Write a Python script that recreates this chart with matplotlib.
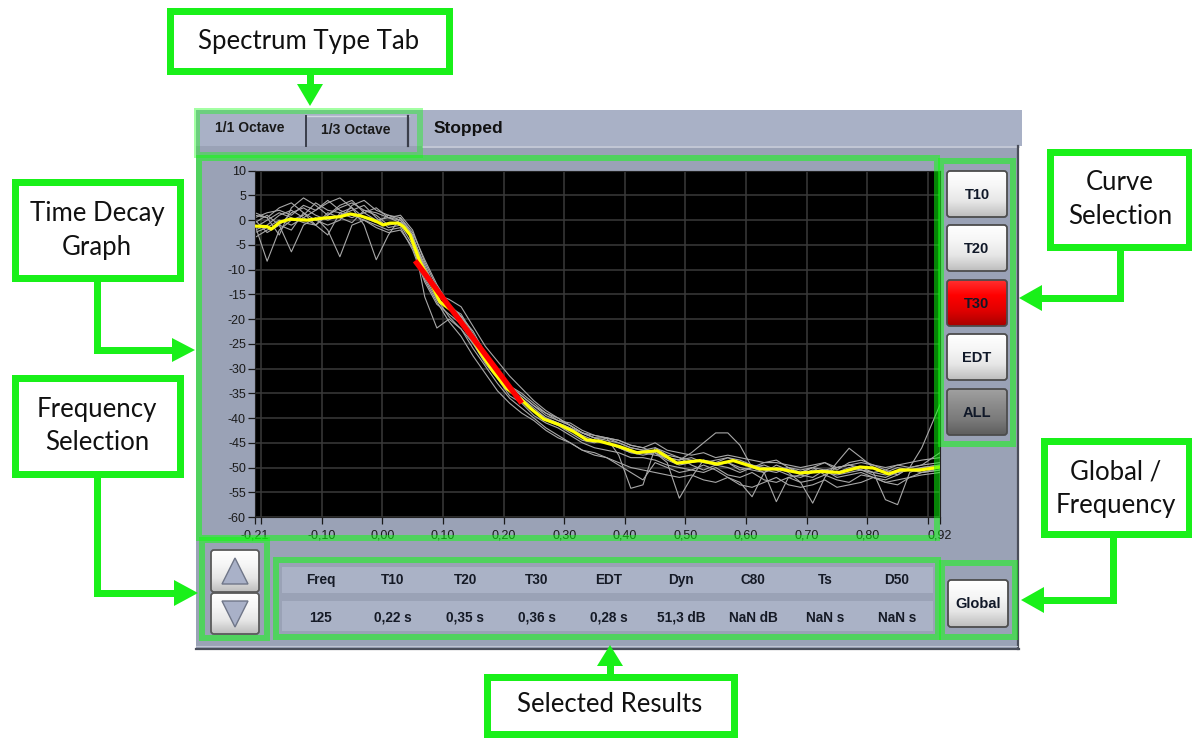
import numpy as np
import matplotlib
matplotlib.use('Agg')
import matplotlib.pyplot as plt
from matplotlib.patches import Rectangle, FancyBboxPatch, Polygon
from matplotlib.colors import LinearSegmentedColormap

# ---------------- data ----------------
x_ticks = [-0.21, -0.20, -0.10, 0.00, 0.10, 0.20, 0.30, 0.40, 0.50, 0.60, 0.70, 0.80, 0.90, 0.92]
x_labels = ['-0,21', '', '-0,10', '0,00', '0,10', '0,20', '0,30', '0,40', '0,50', '0,60',
            '0,70', '0,80', '', '0,92']
y_ticks = [10, 5, 0, -5, -10, -15, -20, -25, -30, -35, -40, -45, -50, -55, -60]

yel_t = [-0.21, -0.19, -0.183, -0.169, -0.152, -0.125, -0.098, -0.070, -0.053, -0.037,
         -0.020, -0.009, 0.0015, 0.0125, 0.026, 0.035, 0.046, 0.054, 0.062, 0.079,
         0.095, 0.117, 0.139, 0.161, 0.183, 0.205, 0.227, 0.244, 0.266, 0.293,
         0.315, 0.337, 0.359, 0.392, 0.420, 0.453, 0.486, 0.524, 0.552, 0.579,
         0.623, 0.656, 0.689, 0.722, 0.755, 0.788, 0.810, 0.835, 0.854, 0.887, 0.920]
yel_v = [-1.2, -1.3, -1.8, -0.4, 0.2, 0.0, 0.4, 0.7, 1.25, 0.9,
         0.24, -0.3, -0.97, -0.6, -0.6, -1.3, -3.0, -5.7, -8.4, -12.4,
         -16.5, -18.5, -21.8, -26.6, -30.6, -34.0, -36.0, -38.0, -40.2, -41.4,
         -42.7, -44.4, -44.7, -45.8, -47.0, -46.6, -49.1, -48.6, -49.3, -48.6,
         -50.3, -50.3, -51.1, -50.8, -51.0, -49.9, -50.1, -51.3, -50.5, -50.5, -49.9]

red_t = [0.054, 0.230]
red_v = [-8.2, -37.0]

gray_t = [-0.21, -0.19, -0.17, -0.15, -0.13, -0.11, -0.09, -0.07, -0.05, -0.03,
          -0.01, 0.01, 0.03, 0.05, 0.07, 0.09, 0.11, 0.13, 0.15, 0.17,
          0.19, 0.21, 0.23, 0.25, 0.27, 0.29, 0.31, 0.33, 0.35, 0.37,
          0.39, 0.41, 0.43, 0.45, 0.47, 0.49, 0.51, 0.53, 0.55, 0.57,
          0.59, 0.61, 0.63, 0.65, 0.67, 0.69, 0.71, 0.73, 0.75, 0.77,
          0.79, 0.81, 0.83, 0.85, 0.87, 0.89, 0.92]

gray_1 = [1.5, 0.5, -3.0, 2.5, 4.5, 3.0, 1.0, 2.5, 3.5, 2.0,
          1.5, 0.5, 1.0, -2.0, -8.5, -13.5, -17.0, -19.5, -22.5, -27.0,
          -30.0, -33.5, -35.5, -37.5, -39.0, -40.5, -41.0, -42.5, -43.5, -44.0,
          -44.5, -45.5, -46.0, -45.0, -46.5, -47.0, -47.5, -47.0, -48.0, -47.5,
          -48.0, -48.5, -49.0, -49.0, -49.5, -50.0, -49.5, -49.0, -50.0, -49.5,
          -49.0, -49.5, -50.0, -49.5, -49.0, -48.5, -48.0]
gray_2 = [-3.5, -2.0, -1.0, -6.4, -1.0, 0.5, -2.0, -7.4, -1.0, 0.0,
          -1.5, -2.5, -2.0, -5.5, -12.0, -16.5, -20.5, -23.5, -27.5, -31.0,
          -34.5, -37.0, -39.0, -40.5, -42.5, -44.0, -45.0, -46.5, -47.0, -48.0,
          -49.5, -51.0, -52.5, -49.0, -50.0, -51.0, -50.5, -51.0, -50.0, -51.5,
          -52.0, -51.0, -52.5, -53.0, -52.0, -53.0, -52.5, -51.5, -52.5, -53.0,
          -51.5, -52.0, -53.0, -52.5, -52.0, -51.5, -51.0]
gray_3 = [0.5, 1.5, 2.0, 1.0, 3.0, 2.0, 3.5, 4.5, 2.5, -1.0,
          -8.0, -3.0, 0.5, -3.0, -15.5, -21.8, -20.0, -22.0, -26.0, -29.5,
          -33.0, -36.0, -38.0, -40.0, -42.0, -43.5, -45.0, -46.5, -47.5, -48.0,
          -49.0, -50.0, -50.5, -51.0, -51.5, -52.0, -51.5, -52.5, -53.0, -52.0,
          -53.5, -54.0, -53.0, -52.0, -53.5, -54.0, -53.5, -52.5, -54.0, -53.5,
          -53.0, -52.0, -53.0, -53.5, -52.0, -51.0, -50.5]
gray_4 = [-2.0, -1.0, 1.0, 2.0, 0.5, -1.0, 1.5, 0.5, -0.5, 2.0,
          1.0, -1.0, -0.5, -3.5, -9.0, -14.5, -17.5, -19.0, -23.0, -27.5,
          -31.0, -34.0, -36.0, -38.0, -40.0, -41.0, -42.0, -43.0, -44.0, -44.5,
          -45.0, -46.0, -46.5, -47.0, -48.0, -48.5, -47.0, -45.0, -43.0, -43.0,
          -45.5, -50.0, -51.0, -49.5, -50.5, -51.0, -50.0, -51.5, -50.0, -49.5,
          -50.5, -51.0, -50.5, -51.5, -50.0, -49.5, -49.0]
gray_5 = [0.0, -2.5, -1.0, 1.5, 2.5, 1.0, 0.0, 1.0, 2.0, 3.0,
          0.5, -1.5, -1.0, -5.0, -11.5, -16.0, -19.5, -22.0, -25.0, -28.5,
          -31.5, -34.5, -36.5, -38.5, -40.5, -41.5, -43.0, -44.5, -45.0, -44.0,
          -47.5, -54.2, -53.5, -46.0, -47.0, -48.0, -49.5, -50.5, -49.5, -49.0,
          -50.5, -50.0, -49.0, -48.5, -50.0, -51.0, -50.0, -49.0, -50.5, -49.0,
          -48.5, -49.5, -50.5, -49.5, -50.0, -49.5, -47.0]
gray_6 = [-1.0, -8.3, -2.0, 0.0, 1.0, 3.5, 2.0, 1.5, 0.5, 1.5,
          2.5, 0.5, 0.0, -3.0, -10.0, -14.0, -17.0, -19.5, -23.5, -27.5,
          -30.5, -33.5, -35.0, -37.0, -39.0, -40.0, -41.5, -43.0, -43.5, -44.0,
          -44.5, -45.5, -46.0, -47.0, -49.0, -56.2, -52.0, -48.5, -49.0, -48.0,
          -48.5, -49.5, -50.5, -51.0, -50.0, -51.5, -52.0, -50.5, -51.0, -50.0,
          -50.5, -51.5, -52.0, -51.0, -50.5, -51.0, -50.0]
gray_7 = [-2.5, -1.5, 0.0, -1.0, 0.5, 2.0, 4.0, 2.0, 1.0, 0.0,
          -1.0, -2.0, -1.5, -6.0, -12.5, -17.0, -19.0, -21.0, -25.0, -29.0,
          -32.0, -35.5, -37.0, -39.5, -41.0, -42.0, -43.5, -45.0, -46.0, -46.5,
          -47.0, -48.0, -48.0, -48.5, -49.5, -50.0, -50.5, -49.5, -50.5, -52.0,
          -53.0, -55.9, -51.0, -56.9, -52.0, -51.5, -50.5, -51.0, -51.5, -51.0,
          -50.5, -51.0, -51.5, -51.0, -50.5, -51.0, -50.5]
gray_8 = [1.0, 0.5, 2.5, 3.5, 1.5, 0.0, -1.0, 0.0, 3.0, 4.0,
          2.0, 1.0, 0.0, -4.0, -10.0, -15.0, -16.0, -17.5, -21.5, -25.5,
          -28.5, -31.5, -34.0, -36.5, -38.5, -40.0, -41.5, -43.0, -44.0, -45.0,
          -46.0, -47.0, -47.5, -47.0, -48.5, -49.5, -49.0, -48.5, -49.5, -49.0,
          -50.0, -50.5, -51.0, -50.0, -51.0, -53.0, -57.2, -52.0, -49.0, -46.1,
          -48.0, -50.0, -51.0, -50.0, -50.5, -50.0, -49.5]
gray_9 = [-1.5, 0.0, 1.5, 0.5, -0.5, -1.0, 1.0, 3.0, 4.0, 1.5,
          0.0, 0.5, -0.5, -3.5, -9.5, -14.5, -17.5, -20.5, -24.5, -28.5,
          -31.5, -34.5, -36.0, -38.5, -40.0, -41.0, -42.0, -43.5, -44.5, -45.0,
          -46.0, -47.0, -47.0, -47.5, -48.0, -48.5, -48.0, -49.0, -48.5, -48.0,
          -49.0, -49.5, -50.0, -50.5, -50.0, -50.5, -50.0, -50.5, -50.0, -49.5,
          -50.0, -51.0, -56.5, -57.5, -51.0, -50.0, -49.5]
gray_10 = [-0.5, 1.0, -1.0, -2.0, 1.5, -1.0, -3.0, 1.5, 2.5, 0.5,
           -0.5, 1.0, 0.5, -2.5, -8.0, -13.0, -17.0, -19.5, -23.5, -27.5,
           -30.5, -33.5, -35.5, -37.5, -39.5, -40.5, -41.5, -43.0, -44.0, -44.0,
           -45.0, -46.0, -46.5, -46.0, -47.5, -48.0, -48.5, -49.0, -49.5, -50.0,
           -51.0, -50.0, -49.5, -50.5, -51.5, -52.0, -51.0, -50.5, -52.0, -51.5,
           -51.0, -52.0, -52.5, -51.5, -50.0, -46.0, -37.3]
gray_curves = [gray_1, gray_2, gray_3, gray_4, gray_5, gray_6, gray_7, gray_8, gray_9, gray_10]

curve_buttons = ['T10', 'T20', 'T30', 'EDT', 'ALL']
res_headers = ['Freq', 'T10', 'T20', 'T30', 'EDT', 'Dyn', 'C80', 'Ts', 'D50']
res_values = ['125', '0,22 s', '0,35 s', '0,36 s', '0,28 s', '51,3 dB', 'NaN dB', 'NaN s', 'NaN s']
tabs = ['1/1 Octave', '1/3 Octave']
status = 'Stopped'

# ---------------- figure ----------------
W, H = 1192, 738
fig = plt.figure(figsize=(W / 100, H / 100), dpi=100)
fig.patch.set_facecolor('white')

UI = 'Liberation Sans'
ANN = 'Lato'
GREEN = '#19F019'
PANEL = '#9AA2B6'
BAR = '#A9B1C6'
ROW = '#AAB2C6'


def overlay(z):
    a = fig.add_axes([0, 0, 1, 1], zorder=z)
    a.set_xlim(0, W)
    a.set_ylim(H, 0)
    a.axis('off')
    a.patch.set_alpha(0)
    return a


bg = overlay(0)
fg = overlay(3)


def px_axes(l, t, r, b):
    return [l / W, 1 - b / H, (r - l) / W, (b - t) / H]


# ---- panel ----
bg.add_patch(Rectangle((196, 110), 1022 - 196, 36, facecolor=BAR, edgecolor='none'))
bg.add_patch(Rectangle((196, 146), 1019 - 196, 503, facecolor=PANEL, edgecolor='none'))
bg.plot([423, 1019], [146.5, 146.5], color='#C9CEDB', lw=1.2)
bg.plot([1017.5, 1017.5], [146, 649], color='#4A4E5A', lw=1.6)
bg.plot([196, 1019], [648.5, 648.5], color='#4A4E5A', lw=1.6)
bg.plot([196, 1017], [646, 646], color='#BFC4D2', lw=0.8)

# tabs
bg.add_patch(Rectangle((305, 116), 104, 30, facecolor='#A3ABC0', edgecolor='none'))
bg.plot([305, 409], [116, 116], color='#D0D5E0', lw=1)
bg.plot([305.5, 305.5], [116, 146], color='#3A3E4A', lw=1.4)
bg.plot([408, 408], [116, 146], color='#3A3E4A', lw=1.6)
bg.text(250, 128, tabs[0], ha='center', va='center', fontsize=10, fontweight='bold',
        color='#1A1A1A', family=UI)
bg.text(356, 130, tabs[1], ha='center', va='center', fontsize=10, fontweight='bold',
        color='#1A1A1A', family=UI)
bg.text(434, 129, status, ha='left', va='center', fontsize=12.5, fontweight='bold',
        color='#111111', family=UI)


def button(a, x0, y0, x1, y1, colors, edge, label=None, tcolor='#101828', fs=10, r=3, lw=1.3):
    cmap = LinearSegmentedColormap.from_list('b', colors)
    grad = np.linspace(0, 1, 100).reshape(-1, 1)
    im = a.imshow(grad, cmap=cmap, extent=(x0, x1, y1, y0), origin='upper', aspect='auto',
                  zorder=5, interpolation='bilinear')
    patch = FancyBboxPatch((x0, y0), x1 - x0, y1 - y0, boxstyle=f'round,pad=0,rounding_size={r}',
                           facecolor='none', edgecolor=edge, lw=lw, zorder=6)
    a.add_patch(patch)
    im.set_clip_path(patch)
    if label:
        a.text((x0 + x1) / 2, (y0 + y1) / 2 + 1, label, ha='center', va='center', fontsize=fs,
               fontweight='bold', color=tcolor, family=UI, zorder=7)


WHITE_G = ['#FFFFFF', '#F6F6F6', '#E6E6E6', '#BDBDBD']
RED_G = ['#FF3030', '#FF0000', '#E00000', '#A80000']
GRAY_G = ['#A0A0A0', '#8C8C8C', '#7A7A7A', '#5E5E5E']
btn_tops = [171, 225, 280, 334, 389]
for lab, yt in zip(curve_buttons, btn_tops):
    cols = WHITE_G
    if lab == 'T30':
        cols = RED_G
    elif lab == 'ALL':
        cols = GRAY_G
    button(bg, 947, yt, 1007, yt + 46, cols, '#4C4C4C', lab, fs=10.5)

# Global button
button(bg, 948, 580, 1008, 627, WHITE_G, '#4C4C4C', 'Global', fs=10.5)

# arrow buttons
button(bg, 211, 550, 259, 592, WHITE_G, '#5A5A5A')
button(bg, 211, 593, 259, 634, WHITE_G, '#5A5A5A')
bg.add_patch(Polygon([[235, 558], [222, 584], [248, 584]], closed=True, facecolor='#A9B1C8',
                     edgecolor='#6F7688', lw=1, zorder=8))
bg.add_patch(Polygon([[222, 601], [248, 601], [235, 627]], closed=True, facecolor='#A9B1C8',
                     edgecolor='#6F7688', lw=1, zorder=8))

# results table
bg.add_patch(Rectangle((282, 567), 651, 26, facecolor=ROW, edgecolor='none'))
bg.add_patch(Rectangle((282, 601), 651, 30, facecolor=ROW, edgecolor='none'))
for i, (hd, vl) in enumerate(zip(res_headers, res_values)):
    cx = 321 + 72.0 * i
    bg.text(cx, 580, hd, ha='center', va='center', fontsize=9.8, fontweight='bold',
            color='#151A26', family=UI)
    bg.text(cx, 618, vl, ha='center', va='center', fontsize=9.8, fontweight='bold',
            color='#151A26', family=UI)

# ---------------- data axes ----------------
ax = fig.add_axes(px_axes(255, 170.7, 940, 517), zorder=1)
ax.set_facecolor('black')
ax.set_xlim(-0.21, 0.92)
ax.set_ylim(-60, 10)
ax.set_xticks(x_ticks)
ax.set_xticklabels(x_labels)
ax.set_yticks(y_ticks)
ax.set_yticklabels([str(v) for v in y_ticks])
ax.grid(True, color='#3A3A3A', lw=1.1)
ax.set_axisbelow(True)
ax.tick_params(axis='both', colors='#1A1A1A', labelsize=9, length=5, width=0.9)
ax.tick_params(axis='y', pad=1.5)
ax.tick_params(axis='x', pad=4)
for lab in ax.get_xticklabels() + ax.get_yticklabels():
    lab.set_family(UI)
for s in ax.spines.values():
    s.set_color('#222222')
    s.set_linewidth(0.8)

for g in gray_curves:
    ax.plot(gray_t, g, color='#A8A8A8', lw=0.8, zorder=2)
ax.plot(yel_t, yel_v, color='#FFFF00', lw=2.3, zorder=3)
ax.plot(red_t, red_v, color='#FF0000', lw=3.9, solid_capstyle='butt', zorder=4)


# ---------------- highlight boxes ----------------
def hl(x0, y0, x1, y1, alpha=0.52, w=6):
    fg.add_patch(Rectangle((x0 + w / 2, y0 + w / 2), x1 - x0 - w, y1 - y0 - w, fill=False,
                           edgecolor=(0.05, 1.0, 0.05, alpha), lw=w * 0.72, zorder=2))


hl(194, 108, 423, 158, alpha=0.38)
hl(196, 155, 940, 541)
hl(938, 158, 1016, 447)
hl(199, 537, 270, 641)
hl(273, 557, 941, 640)
hl(939, 560, 1018, 640)


# ---------------- annotation boxes ----------------
def abox(x0, y0, x1, y1, lines, cx, ys, w=7):
    fg.add_patch(Rectangle((x0 + w / 2, y0 + w / 2), x1 - x0 - w, y1 - y0 - w, facecolor='white',
                           edgecolor=GREEN, lw=w * 0.72, zorder=5))
    for ln, yy in zip(lines, ys):
        fg.text(cx, yy, ln, ha='center', va='center', fontsize=18.5, color='#111111',
                family=ANN, zorder=6)


def gline(xs, ys):
    fg.plot(xs, ys, color=GREEN, lw=7 * 0.72, solid_capstyle='butt', solid_joinstyle='miter',
            zorder=4)


def ghead(pts):
    fg.add_patch(Polygon(pts, closed=True, facecolor=GREEN, edgecolor='none', zorder=4))


abox(166, 7, 452, 74, ['Spectrum Type Tab'], 309, [41])
gline([310, 310], [72, 88])
ghead([[297, 84], [323, 84], [310, 106]])

abox(11, 178, 183, 281, ['Time Decay', 'Graph'], 97, [213, 247])
gline([97, 97, 176], [279, 350, 350])
ghead([[172, 338], [172, 362], [195, 350]])

abox(11, 374, 183, 477, ['Frequency', 'Selection'], 97, [409, 443])
gline([97, 97, 178], [475, 593, 593])
ghead([[174, 580], [174, 606], [198, 593]])

abox(1046, 148, 1192, 250, ['Curve', 'Selection'], 1120, [182, 216])
gline([1120, 1120, 1038], [248, 298, 298])
ghead([[1042, 285], [1042, 311], [1019, 298]])

abox(1040, 437, 1192, 537, ['Global /', 'Frequency'], 1116, [472, 506])
gline([1113, 1113, 1040], [535, 600, 600])
ghead([[1044, 587], [1044, 613], [1021, 600]])

abox(483, 673, 737, 737, ['Selected Results'], 610, [705])
gline([610, 610], [675, 662])
ghead([[597, 666], [623, 666], [610, 645]])

for a in (bg, fg):
    a.set_xlim(0, W)
    a.set_ylim(H, 0)

fig.savefig('out.png', dpi=100, facecolor='white')
